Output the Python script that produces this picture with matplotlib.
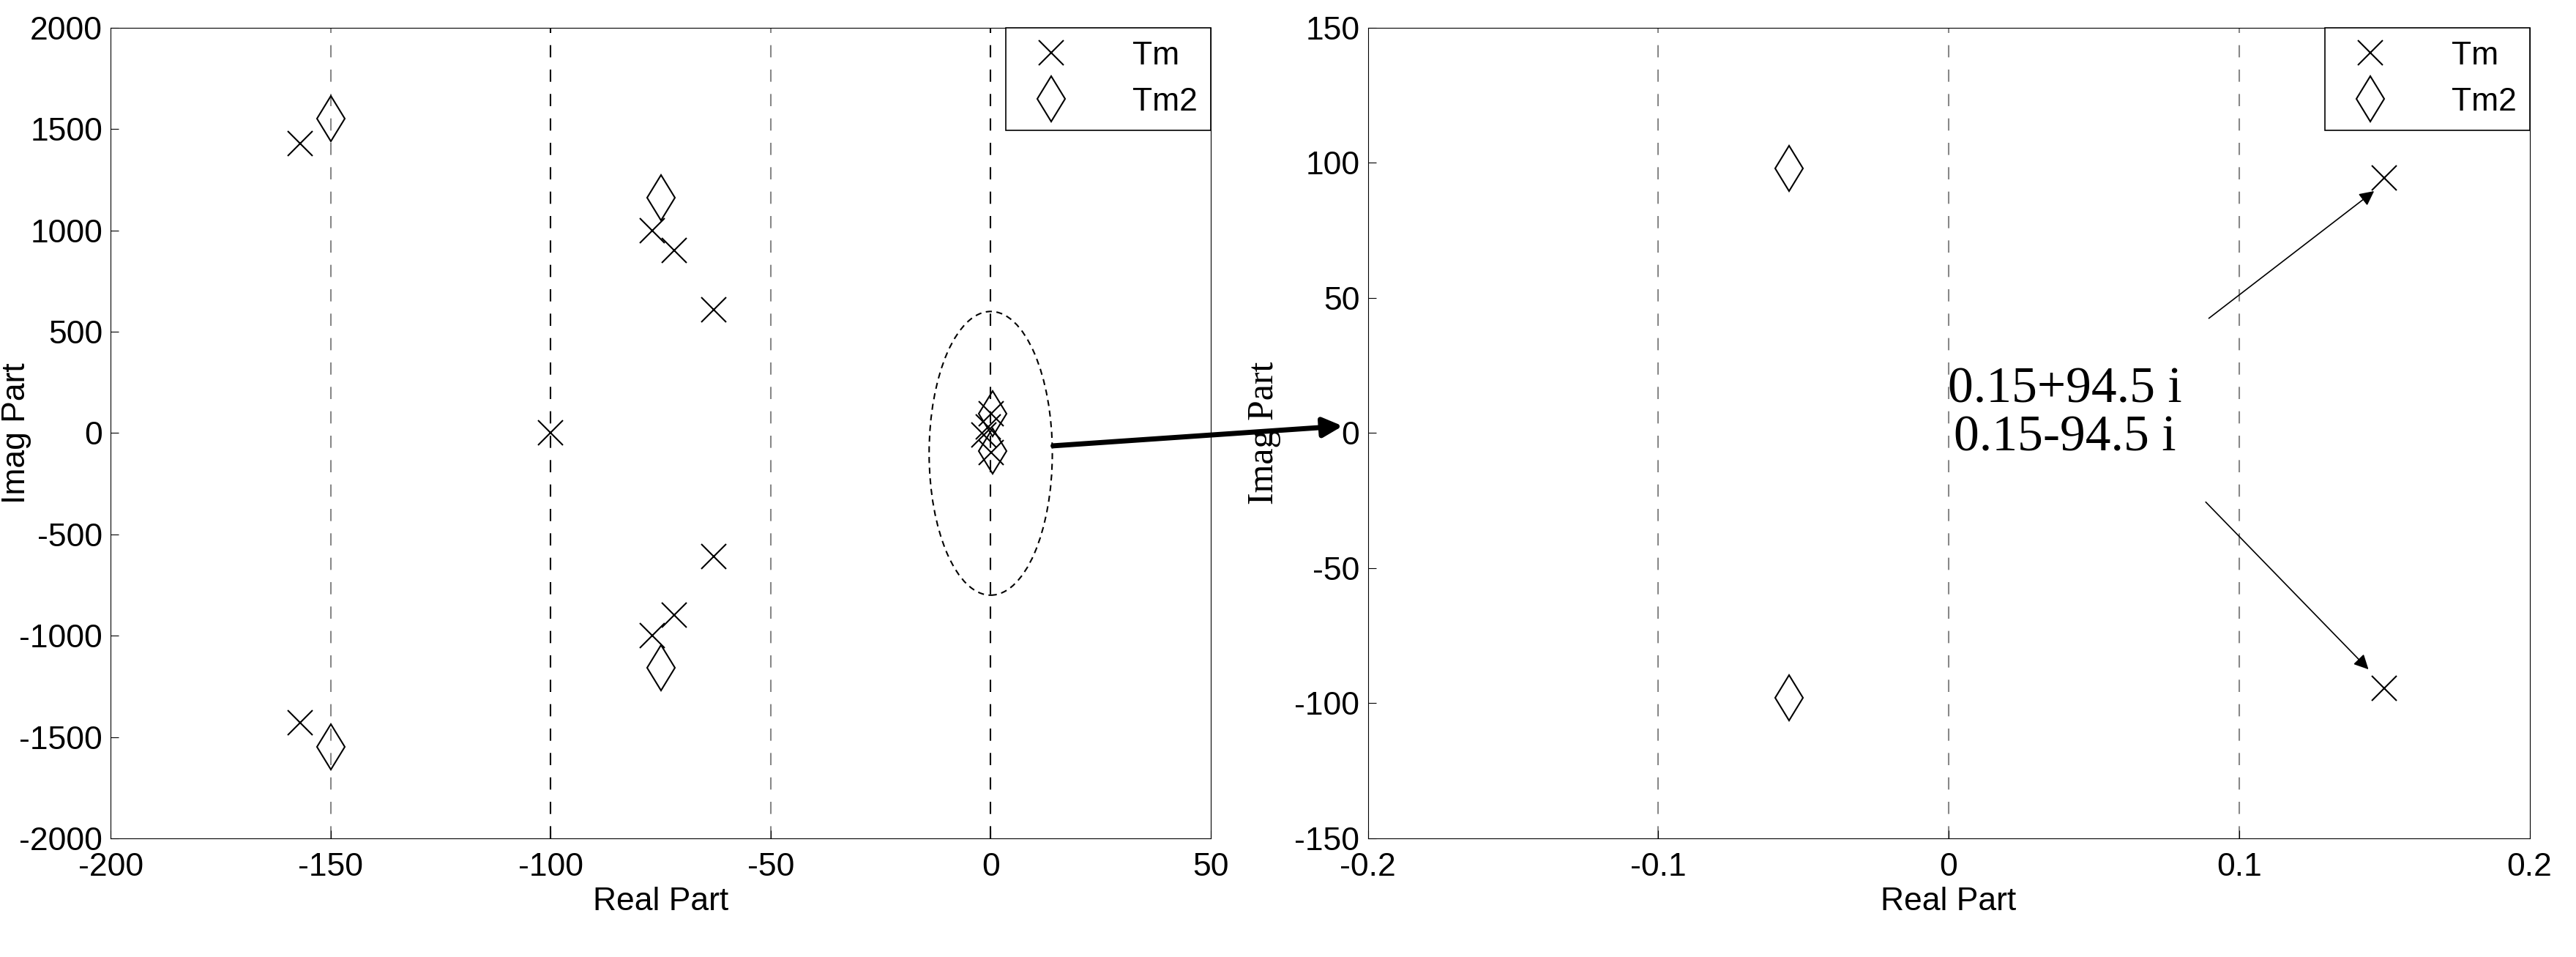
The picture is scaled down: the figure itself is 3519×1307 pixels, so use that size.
import matplotlib
matplotlib.use("Agg")
import matplotlib.pyplot as plt
from matplotlib.patches import Ellipse, FancyArrowPatch

plt.rcParams['font.family'] = ['Liberation Sans', 'DejaVu Sans']
plt.rcParams['axes.unicode_minus'] = False

# left plot: all poles
tm_re = [-157, -157, -100, -77, -77, -72, -72, -63, -63, -1.5, -0.5, 0.15, 0.15]
tm_im = [1430, -1430, 0, 1000, -1000, 900, -900, 610, -610, -10, 30, 94.5, -94.5]
tm2_re = [-150, -150, -75, -75, 0.5, 0.5]
tm2_im = [1550, -1550, 1160, -1160, 95, -90]
# right plot: zoomed poles
z_tm_re = [0.15, 0.15]
z_tm_im = [94.5, -94.5]
z_tm2_re = [-0.055, -0.055]
z_tm2_im = [98, -98]

FS = 32
fig = plt.figure(figsize=(35.19, 13.07), dpi=100)
ax1 = fig.add_axes([0.043, 0.124, 0.427, 0.847])
ax2 = fig.add_axes([0.531, 0.124, 0.451, 0.847])

def style(ax, gray, black):
    for x in gray:
        ax.axvline(x, color="#888888", ls=(0, (8, 8)), lw=1.5, zorder=0)
    for x in black:
        ax.axvline(x, color="black", ls=(0, (8, 8)), lw=1.5, zorder=0)
    ax.tick_params(labelsize=FS, direction="in", length=8)
    ax.tick_params(axis="x", pad=14)
    ax.tick_params(axis="y", pad=8)
    ax.set_xlabel("Real Part", fontsize=FS, labelpad=4)
    ax.set_ylabel("Imag Part", fontsize=FS)

mk = dict(ls="none", color="black", mfc="none", mew=1.5)
ax1.plot(tm_re, tm_im, marker="x", ms=24, label="Tm", **mk)
ax1.plot(tm2_re, tm2_im, marker="d", ms=32, label="Tm2", **mk)
ax1.set_xlim(-200, 50); ax1.set_ylim(-2000, 2000)
ax1.set_yticks(range(-2000, 2001, 500))
style(ax1, [-150, -50], [-100, 0])
ax1.yaxis.set_label_coords(-0.072, 0.5)
ax1.add_patch(Ellipse((0, -100), 28, 1400, fill=False, ls=(0, (4, 3)), lw=1.5))

ax2.plot(z_tm_re, z_tm_im, marker="x", ms=24, label="Tm", **mk)
ax2.plot(z_tm2_re, z_tm2_im, marker="d", ms=32, label="Tm2", **mk)
ax2.set_xlim(-0.2, 0.2); ax2.set_ylim(-150, 150)
ax2.set_xticks([-0.2, -0.1, 0, 0.1, 0.2]); ax2.set_xticklabels(["-0.2", "-0.1", "0", "0.1", "0.2"])
ax2.set_yticks(range(-150, 151, 50))
style(ax2, [-0.1, 0, 0.1], [])
ax2.set_ylabel("Imag Part", fontsize=FS + 4, family="Liberation Serif")
ax2.yaxis.set_label_coords(-0.075, 0.5)

for ax in (ax1, ax2):
    leg = ax.legend(loc="upper right", fontsize=FS, fancybox=False, edgecolor="black",
                    borderaxespad=0, handletextpad=1.5, borderpad=0.4, framealpha=1)
    leg.get_frame().set_linewidth(1.2)

ax2.text(0.04, 7, "0.15+94.5 i\n0.15-94.5 i", ha="center", va="center",
         fontsize=50, family="Liberation Serif", linespacing=1.05)
ax2.add_patch(FancyArrowPatch((0.089, 42), (0.147, 90), arrowstyle="-|>", mutation_scale=30, lw=1.2, color="black"))
ax2.add_patch(FancyArrowPatch((0.088, -25), (0.145, -88), arrowstyle="-|>", mutation_scale=30, lw=1.2, color="black"))

fig.add_artist(FancyArrowPatch((0.408, 0.534), (0.522, 0.555), transform=fig.transFigure,
                               arrowstyle="-|>", mutation_scale=40, lw=5, color="black"))

fig.savefig("out.png", dpi=100, facecolor="white")
